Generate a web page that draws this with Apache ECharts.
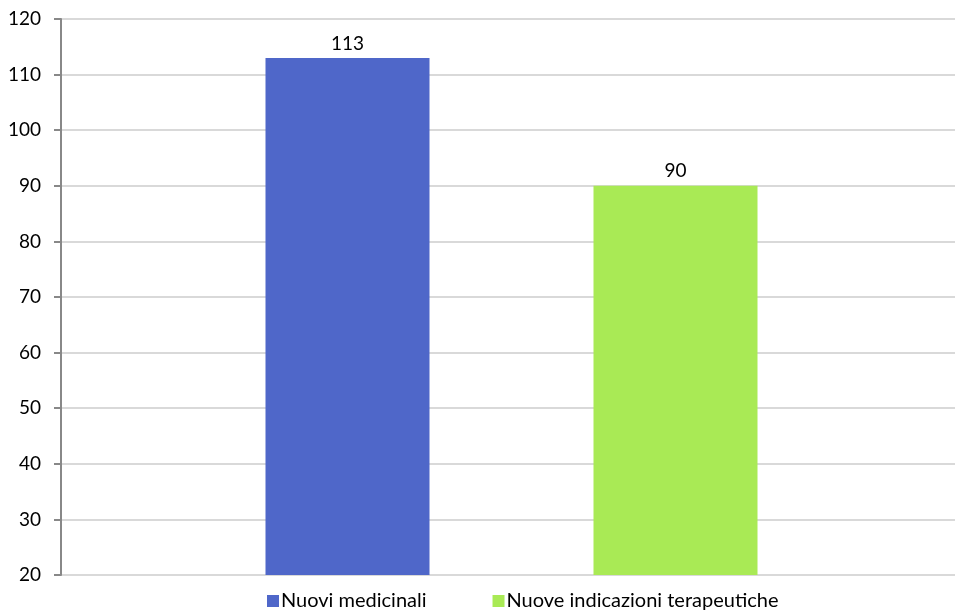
<!DOCTYPE html>
<html>
<head>
<meta charset="utf-8">
<script src="https://cdn.jsdelivr.net/npm/echarts@6/dist/echarts.min.js"></script>
<style>
html, body { margin: 0; padding: 0; background: #fff; overflow: hidden; }
#chart { width: 966px; height: 612px; }
</style>
</head>
<body>
<div id="chart"></div>
<script>
var categories = [''];
var seriesNames = ['Nuovi medicinali', 'Nuove indicazioni terapeutiche'];
var seriesValues = [[113], [90]];
var seriesColors = ['#4F67C9', '#A9EA55'];

var font = 'Lato, "Open Sans", sans-serif';

var chart = echarts.init(document.getElementById('chart'));

var series = [];
for (var i = 0; i < seriesNames.length; i++) {
    series.push({
        name: seriesNames[i],
        type: 'bar',
        data: seriesValues[i],
        barWidth: 164,
        barGap: '100%',
        itemStyle: { color: seriesColors[i] },
        label: {
            show: true,
            position: 'top',
            distance: 5,
            color: '#000',
            fontFamily: font,
            fontSize: 19
        }
    });
}

chart.setOption({
    animation: false,
    grid: { left: 61, right: 4, top: 19, bottom: 37, containLabel: false },
    legend: {
        top: 586,
        left: 262,
        itemWidth: 12,
        itemHeight: 12,
        itemGap: 66,
        icon: 'rect',
        textStyle: { color: '#000', fontFamily: font, fontSize: 20, padding: [0, 0, 0, -3] },
        data: seriesNames
    },
    xAxis: {
        type: 'category',
        data: categories,
        axisLine: { show: false },
        axisTick: { show: false },
        axisLabel: { show: false }
    },
    yAxis: {
        type: 'value',
        min: 20,
        max: 120,
        interval: 10,
        axisLine: { show: true, lineStyle: { color: '#888', width: 2 } },
        axisTick: { show: true, length: 7, lineStyle: { color: '#888', width: 2 } },
        axisLabel: { color: '#000', fontFamily: font, fontSize: 19, margin: 20 },
        splitLine: { show: true, lineStyle: { color: '#d9d9d9', width: 2 } }
    },
    series: series
});
</script>
</body>
</html>
